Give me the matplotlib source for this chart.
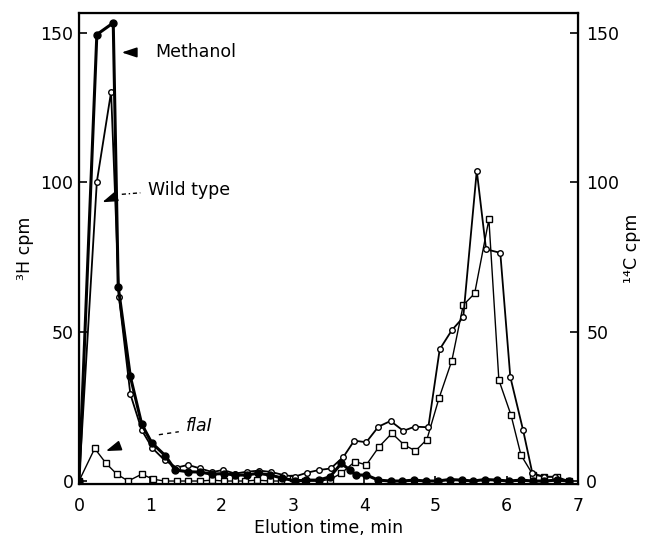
import matplotlib
matplotlib.use("Agg")
import matplotlib.pyplot as plt
import numpy as np

# Methanol (filled circles)
t_meth = [0, 0.25, 0.48, 0.55, 0.72, 0.88, 1.02, 1.21, 1.35, 1.53, 1.7, 1.86, 2.03, 2.19, 2.35,
          2.51, 2.68, 2.85, 3.03, 3.19, 3.36, 3.52, 3.68, 3.8, 3.88, 4.03, 4.2, 4.37, 4.53, 4.7,
          4.87, 5.03, 5.2, 5.37, 5.53, 5.7, 5.87, 6.03, 6.2, 6.37, 6.53, 6.7, 6.87]
y_meth = [0, 149.5, 153.4, 65, 35, 19, 12.8, 8.5, 3.7, 3.1, 3, 2.3, 2.5, 2, 2,
          2.6, 2, 1, 0, 0.3, 0.3, 1.4, 5.9, 3.7, 2, 2, 0.3, 0, 0, 0.3,
          0, 0, 0.5, 0.3, 0, 0.5, 0.3, 0, 0.3, 0, 0, 0.3, 0]

# Wild type (open circles)
t_wild = [0, 0.25, 0.45, 0.56, 0.72, 0.88, 1.03, 1.2, 1.37, 1.53, 1.7, 1.87, 2.02, 2.19, 2.35,
          2.53, 2.7, 2.87, 3.03, 3.2, 3.37, 3.53, 3.71, 3.86, 4.03, 4.2, 4.37, 4.55, 4.71, 4.9,
          5.06, 5.23, 5.39, 5.58, 5.71, 5.91, 6.05, 6.23, 6.36, 6.53, 6.68]
y_wild = [0, 100.2, 130.3, 61.7, 29.1, 17, 11, 7, 4.5, 5.4, 4.2, 3, 3.7, 2.5, 3.1,
          3.5, 3, 2, 1.5, 2.8, 3.7, 4.2, 8.1, 13.5, 13, 18.2, 20.1, 16.8, 18.2, 18,
          44.1, 50.5, 54.8, 103.9, 77.6, 76.4, 34.9, 17, 2.6, 1.4, 1.4]

# flaI (open squares)
t_fla = [0, 0.22, 0.38, 0.53, 0.69, 0.88, 1.04, 1.2, 1.37, 1.53, 1.7, 1.87, 2.03, 2.19, 2.33,
         2.5, 2.68, 2.84, 3.0, 3.17, 3.36, 3.52, 3.68, 3.87, 4.03, 4.21, 4.39, 4.56, 4.72, 4.88,
         5.05, 5.23, 5.39, 5.55, 5.75, 5.89, 6.06, 6.2, 6.37, 6.53, 6.7, 6.87]
y_fla = [0, 10.9, 5.9, 2.3, 0, 2.3, 0.6, 0, 0, 0, 0, 0.3, 0, 0, 0,
         0.3, 0, 0, 1, 0, 0, 0.5, 2.6, 6.5, 5.4, 11.5, 16, 12.1, 10.1, 13.9,
         27.7, 40.3, 58.9, 62.8, 87.6, 33.8, 22.1, 8.7, 2, 1.5, 1.5, 0]

yticks = [0, 50, 100, 150]
xticks = [0, 1, 2, 3, 4, 5, 6, 7]

fig = plt.figure(figsize=(6.52, 5.36), dpi=100)
ax = fig.add_axes([0.1212, 0.097, 0.7653, 0.8787])

ax.plot(t_fla, y_fla, color='black', lw=1.0, marker='s', ms=4,
        mfc='white', mec='black', mew=1.0, zorder=2)
ax.plot(t_wild, y_wild, color='black', lw=1.3, marker='o', ms=4,
        mfc='white', mec='black', mew=1.0, zorder=3)
ax.plot(t_meth, y_meth, color='black', lw=2.2, marker='o', ms=5,
        mfc='black', mec='black', zorder=4)

ax.set_xlim(0, 7)
ax.set_ylim(-1, 156.7)
ax.set_xticks(xticks)
ax.set_yticks(yticks)
ax.tick_params(direction='in', length=6, width=1.2, labelsize=12.5)
ax.tick_params(axis='x', pad=9)
ax.tick_params(axis='y', pad=4)
for s in ax.spines.values():
    s.set_linewidth(1.6)

ax.set_xlabel("Elution time, min", fontsize=12.5, labelpad=3)
ax.set_ylabel("³H cpm", fontsize=12.5, labelpad=5)

ax2 = ax.twinx()
ax2.set_ylim(ax.get_ylim())
ax2.set_yticks(yticks)
ax2.tick_params(direction='in', length=6, width=1.2, labelsize=12.5, pad=6)
ax2.set_ylabel("¹⁴C cpm", fontsize=12.5, labelpad=3)

# annotations
head = dict(arrowstyle='-|>,head_length=0.9,head_width=0.3', color='black', lw=1.2)
ax.annotate('', xy=(0.56, 143.5), xytext=(0.76, 143.5), arrowprops=head)
ax.text(1.07, 143.5, "Methanol", fontsize=12.5, va='center', ha='left')

ax.annotate('', xy=(0.29, 93), xytext=(0.55, 95.5), arrowprops=head)
ax.plot([0.6, 0.86], [96, 96.5], color='black', lw=1, ls=(0, (3, 2, 1, 2)))
ax.text(0.97, 97.4, "Wild type", fontsize=12.5, va='center', ha='left')

ax.annotate('', xy=(0.34, 9.7), xytext=(0.55, 11.6), arrowprops=head)
ax.plot([1.12, 1.4], [15.5, 16.5], color='black', lw=1, ls=(0, (3, 3)))
ax.text(1.5, 18.4, "flaI", fontsize=12.5, style='italic', va='center', ha='left')

fig.savefig("out.png", dpi=100)
